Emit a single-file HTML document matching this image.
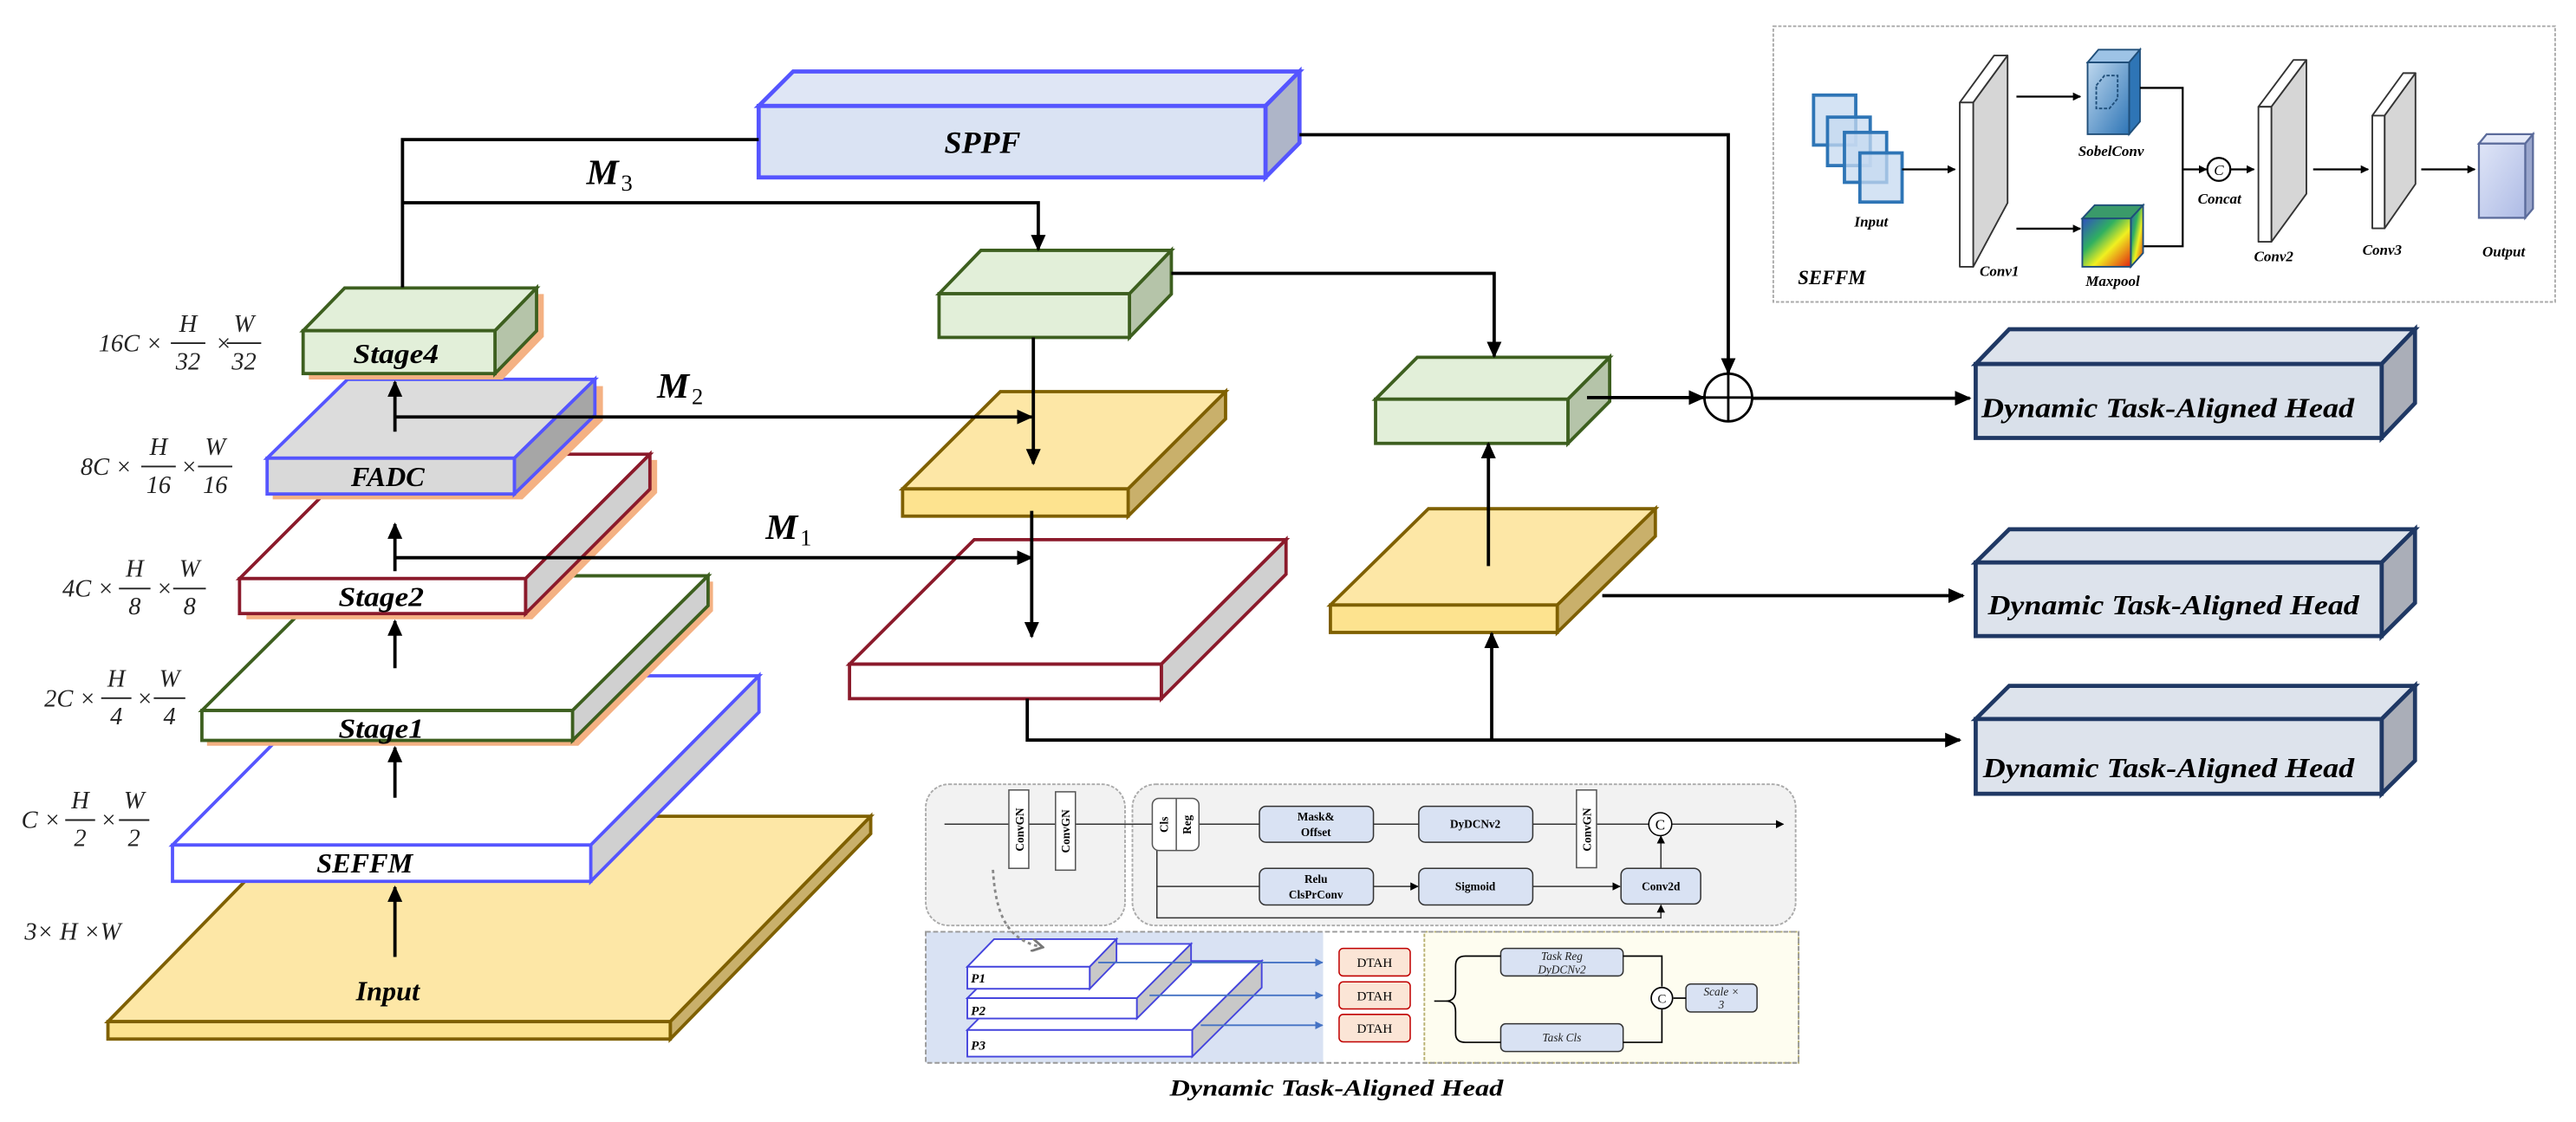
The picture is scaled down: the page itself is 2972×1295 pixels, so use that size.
<!DOCTYPE html>
<html><head><meta charset="utf-8"><style>html,body{margin:0;padding:0;background:#fff}svg{display:block}</style></head><body>
<svg width="2972" height="1295" viewBox="0 0 1568 683" preserveAspectRatio="none" xmlns="http://www.w3.org/2000/svg" font-family="'Liberation Serif', serif">
<defs>
<marker id="a" markerUnits="userSpaceOnUse" markerWidth="10" markerHeight="10" refX="9" refY="5" orient="auto"><path d="M0,0.5 L10,5 L0,9.5 z" fill="#000"/></marker>
<marker id="s" markerUnits="userSpaceOnUse" markerWidth="5" markerHeight="5" refX="4.5" refY="2.5" orient="auto"><path d="M0,0 L5,2.5 L0,5 z" fill="#000"/></marker>
<marker id="b" markerUnits="userSpaceOnUse" markerWidth="5" markerHeight="5" refX="4.5" refY="2.5" orient="auto"><path d="M0,0 L5,2.5 L0,5 z" fill="#4472c4"/></marker>
<marker id="g" markerUnits="userSpaceOnUse" markerWidth="8" markerHeight="8" refX="6" refY="4" orient="auto"><path d="M0,0 L7,4 L0,8" fill="none" stroke="#777" stroke-width="1.5"/></marker>
<linearGradient id="sob" x1="0" y1="0" x2="1" y2="1"><stop offset="0" stop-color="#bdd7ee"/><stop offset="1" stop-color="#2e75b6"/></linearGradient>
<linearGradient id="rb" x1="0" y1="0" x2="1" y2="1"><stop offset="0" stop-color="#3050c0"/><stop offset="0.35" stop-color="#30b060"/><stop offset="0.6" stop-color="#f0f020"/><stop offset="1" stop-color="#e02010"/></linearGradient>
<linearGradient id="out" x1="0" y1="0" x2="1" y2="1"><stop offset="0" stop-color="#dfe5f7"/><stop offset="1" stop-color="#aebbe5"/></linearGradient>
</defs>

<!-- left pyramid -->
<g stroke-width="2" stroke-linejoin="miter">
<g stroke="#7f6000"><polygon points="65.7,621.9 187.7,496.9 530,496.9 408,621.9" fill="#fde7a6"/><polygon points="408,621.9 530,496.9 530,507.5 408,632.5" fill="#c9b06b"/><rect x="65.7" y="621.9" width="342.3" height="10.6" fill="#fde38f"/></g>
<g stroke="#5555ff"><polygon points="105,514.4 207.4,411.4 462,411.4 359.6,514.4" fill="#fff"/><polygon points="359.6,514.4 462,411.4 462,433.5 359.6,536.5" fill="#d0d0d0"/><rect x="105" y="514.4" width="254.6" height="22.1" fill="#fff"/></g>
<polygon points="126,436 208,354 434,354 434,372 352,454 126,454" fill="#f4b183" stroke="none"/>
<g stroke="#3d5f1f"><polygon points="122.9,432.5 205.4,350.5 431,350.5 348.5,432.5" fill="#fff"/><polygon points="348.5,432.5 431,350.5 431,368.7 348.5,450.7" fill="#d0d0d0"/><rect x="122.9" y="432.5" width="225.6" height="18.2" fill="#fff"/></g>
<polygon points="150,356 226,280 400,280 400,300 324,377 150,377" fill="#f4b183" stroke="none"/>
<g stroke="#8b1a2b"><polygon points="145.8,352.2 221.5,276.5 395.6,276.5 319.9,352.2" fill="#fff"/><polygon points="319.9,352.2 395.6,276.5 395.6,297.8 319.9,373.5" fill="#d0d0d0"/><rect x="145.8" y="352.2" width="174.1" height="21.3" fill="#fff"/></g>
<polygon points="166,283 215,235 367,235 367,256 318,304 166,304" fill="#f4b183" stroke="none"/>
<g stroke="#5555ff"><polygon points="162.6,278.9 211.6,230.9 362.1,230.9 313.1,278.9" fill="#dcdcdc"/><polygon points="313.1,278.9 362.1,230.9 362.1,252.7 313.1,300.7" fill="#a6a6a6"/><rect x="162.6" y="278.9" width="150.5" height="21.8" fill="#d9d9d9"/></g>
<polygon points="188,205 213,179 331,179 331,205 306,231 188,231" fill="#f4b183" stroke="none"/>
<g stroke="#3d5f1f"><polygon points="184.5,201.3 209.8,175.3 326.6,175.3 301.3,201.3" fill="#e2efd9"/><polygon points="301.3,201.3 326.6,175.3 326.6,201.4 301.3,227.4" fill="#b5c4a9"/><rect x="184.5" y="201.3" width="116.8" height="26.1" fill="#e2efd9"/></g>
</g>
<g font-weight="bold" font-style="italic" font-size="17" text-anchor="middle">
<text x="241" y="221" textLength="52" lengthAdjust="spacingAndGlyphs">Stage4</text>
<text x="236" y="296">FADC</text>
<text x="232" y="369" textLength="52" lengthAdjust="spacingAndGlyphs">Stage2</text>
<text x="232" y="449" textLength="52" lengthAdjust="spacingAndGlyphs">Stage1</text>
<text x="222" y="531">SEFFM</text>
<text x="236" y="609">Input</text>
</g>
<g stroke="#000" stroke-width="2" fill="none" marker-end="url(#a)">
<line x1="240.4" y1="582.5" x2="240.4" y2="540"/>
<line x1="240.4" y1="485.6" x2="240.4" y2="455"/>
<line x1="240.4" y1="406.8" x2="240.4" y2="378"/>
<line x1="240.4" y1="347.7" x2="240.4" y2="319"/>
<line x1="240.4" y1="262.8" x2="240.4" y2="232.5"/>
</g>
<!-- dims -->
<g font-style="italic" font-size="15" fill="#222">
<text x="60" y="214">16C ×</text><text x="114.5" y="202" text-anchor="middle">H</text><text x="114.5" y="225" text-anchor="middle">32</text><text x="131" y="214">×</text><text x="148.5" y="202" text-anchor="middle">W</text><text x="148.5" y="225" text-anchor="middle">32</text>
<text x="49" y="289">8C ×</text><text x="96.5" y="277" text-anchor="middle">H</text><text x="96.5" y="300" text-anchor="middle">16</text><text x="110" y="289">×</text><text x="131" y="277" text-anchor="middle">W</text><text x="131" y="300" text-anchor="middle">16</text>
<text x="38" y="363">4C ×</text><text x="82" y="351" text-anchor="middle">H</text><text x="82" y="374" text-anchor="middle">8</text><text x="95" y="363">×</text><text x="115.4" y="351" text-anchor="middle">W</text><text x="115.4" y="374" text-anchor="middle">8</text>
<text x="27" y="430">2C ×</text><text x="70.8" y="418" text-anchor="middle">H</text><text x="70.8" y="441" text-anchor="middle">4</text><text x="83" y="430">×</text><text x="103.2" y="418" text-anchor="middle">W</text><text x="103.2" y="441" text-anchor="middle">4</text>
<text x="13" y="504">C ×</text><text x="48.8" y="492" text-anchor="middle">H</text><text x="48.8" y="515" text-anchor="middle">2</text><text x="61" y="504">×</text><text x="81.6" y="492" text-anchor="middle">W</text><text x="81.6" y="515" text-anchor="middle">2</text>
<text x="15" y="572">3× H ×W</text>
</g>
<g stroke="#222" stroke-width="1">
<line x1="104" y1="208.9" x2="125" y2="208.9"/><line x1="138" y1="208.9" x2="159" y2="208.9"/>
<line x1="86" y1="284" x2="107" y2="284"/><line x1="120.5" y1="284" x2="141.4" y2="284"/>
<line x1="72.4" y1="358.3" x2="91.6" y2="358.3"/><line x1="105.4" y1="358.3" x2="125.3" y2="358.3"/>
<line x1="61.6" y1="425" x2="80" y2="425"/><line x1="93.6" y1="425" x2="112.8" y2="425"/>
<line x1="39.7" y1="499.2" x2="57.9" y2="499.2"/><line x1="72.4" y1="499.2" x2="90.9" y2="499.2"/>
</g>

<!-- SPPF -->
<g stroke="#5555ff" stroke-width="2.5"><polygon points="461.8,64.5 482.8,43.5 791,43.5 770.3,64.5" fill="#dfe6f5"/><polygon points="770.3,64.5 791,43.5 791,87 770.3,108" fill="#aeb5c8"/><rect x="461.8" y="64.5" width="308.5" height="43.5" fill="#dae3f3"/></g>
<text x="598" y="93" font-size="19" font-weight="bold" font-style="italic" text-anchor="middle">SPPF</text>

<!-- middle blocks -->
<g stroke-width="2">
<g stroke="#3d5f1f"><polygon points="571.6,178.8 597.1,152.4 713,152.4 687.5,178.8" fill="#e2efd9"/><polygon points="687.5,178.8 713,152.4 713,179 687.5,205.4" fill="#b5c4a9"/><rect x="571.6" y="178.8" width="115.9" height="26.6" fill="#e2efd9"/></g>
<g stroke="#7f6000"><polygon points="549.4,297.6 608.9,238.4 746,238.4 686.7,297.6" fill="#fde7a6"/><polygon points="686.7,297.6 746,238.4 746,255 686.7,314.2" fill="#c9b06b"/><rect x="549.4" y="297.6" width="137.3" height="16.6" fill="#fde38f"/></g>
<g stroke="#8b1a2b"><polygon points="517.1,404.3 593,328.5 782.8,328.5 706.9,404.3" fill="#fff"/><polygon points="706.9,404.3 782.8,328.5 782.8,349.5 706.9,425.3" fill="#d0d0d0"/><rect x="517.1" y="404.3" width="189.8" height="21" fill="#fff"/></g>
<g stroke="#7f6000"><polygon points="809.8,368.3 869.5,309.7 1007.6,309.7 947.9,368.3" fill="#fde7a6"/><polygon points="947.9,368.3 1007.6,309.7 1007.6,326.4 947.9,385" fill="#c9b06b"/><rect x="809.8" y="368.3" width="138.1" height="16.7" fill="#fde38f"/></g>
<g stroke="#3d5f1f"><polygon points="837.3,243 862.7,217.5 979.8,217.5 954.4,243" fill="#e2efd9"/><polygon points="954.4,243 979.8,217.5 979.8,244.4 954.4,269.9" fill="#b5c4a9"/><rect x="837.3" y="243" width="117.1" height="26.9" fill="#e2efd9"/></g>
</g>

<!-- connectors -->
<g stroke="#000" stroke-width="2" fill="none">
<polyline points="461.8,85 245,85 245,175"/>
<polyline points="245,123.4 632,123.4 632,152" marker-end="url(#a)"/>
<line x1="240.4" y1="253.8" x2="628" y2="253.8" marker-end="url(#a)"/>
<line x1="240.4" y1="339.5" x2="628" y2="339.5" marker-end="url(#a)"/>
<line x1="629" y1="205.4" x2="629" y2="282.3" marker-end="url(#a)"/>
<line x1="628" y1="311" x2="628" y2="387.6" marker-end="url(#a)"/>
<polyline points="713,166.4 909.5,166.4 909.5,217" marker-end="url(#a)"/>
<polyline points="625.3,425.3 625.3,450.5 1193,450.5" marker-end="url(#a)"/>
<line x1="908" y1="450.5" x2="908" y2="385.5" marker-end="url(#a)"/>
<line x1="906" y1="344.6" x2="906" y2="270" marker-end="url(#a)"/>
<line x1="975.3" y1="362.6" x2="1195" y2="362.6" marker-end="url(#a)"/>
<line x1="966" y1="242" x2="1037" y2="242" marker-end="url(#a)"/>
<polyline points="791,82 1052,82 1052,227" marker-end="url(#a)"/>
<line x1="1067" y1="242.4" x2="1199" y2="242.4" marker-end="url(#a)"/>
<circle cx="1052" cy="242" r="14.5" stroke-width="1.5"/>
<line x1="1052" y1="227.5" x2="1052" y2="256.5" stroke-width="1.5"/>
<line x1="1037.5" y1="242" x2="1066.5" y2="242" stroke-width="1.5"/>
</g>
<g font-style="italic" font-weight="bold" font-size="22"><text x="357" y="112">M</text><text x="400" y="242">M</text><text x="466" y="328">M</text></g>
<g font-size="14"><text x="378" y="116">3</text><text x="421" y="246">2</text><text x="487" y="332">1</text></g>

<!-- heads -->
<g stroke="#1f3864" stroke-width="2.5">
<polygon points="1202.6,221.6 1223,200.4 1470,200.4 1449.7,221.6" fill="#dde3ec"/><polygon points="1449.7,221.6 1470,200.4 1470,245.4 1449.7,266.6" fill="#aaaeb8"/><rect x="1202.6" y="221.6" width="247.1" height="45" fill="#d9e0ea"/>
<polygon points="1202.6,342.4 1223,322.2 1470,322.2 1449.7,342.4" fill="#dde3ec"/><polygon points="1449.7,342.4 1470,322.2 1470,367 1449.7,387.2" fill="#aaaeb8"/><rect x="1202.6" y="342.4" width="247.1" height="44.8" fill="#dde3ec"/>
<polygon points="1202.6,437.7 1223,417.5 1470,417.5 1449.7,437.7" fill="#dde3ec"/><polygon points="1449.7,437.7 1470,417.5 1470,463 1449.7,483.2" fill="#aaaeb8"/><rect x="1202.6" y="437.7" width="247.1" height="45.5" fill="#dde3ec"/>
</g>
<g font-weight="bold" font-style="italic" font-size="17">
<text x="1206" y="254" textLength="227" lengthAdjust="spacingAndGlyphs">Dynamic Task-Aligned Head</text>
<text x="1210" y="374" textLength="226" lengthAdjust="spacingAndGlyphs">Dynamic Task-Aligned Head</text>
<text x="1207" y="473" textLength="226" lengthAdjust="spacingAndGlyphs">Dynamic Task-Aligned Head</text>
</g>

<!-- SEFFM inset -->
<rect x="1079.4" y="16" width="475.9" height="167.8" fill="#fff" stroke="#aaa" stroke-width="1" stroke-dasharray="2,1"/>
<g stroke="#2e75b6" stroke-width="2" fill="#c5d9f0" fill-opacity="0.75">
<rect x="1103.9" y="57.9" width="25.7" height="30.4"/><rect x="1112.4" y="71.3" width="26" height="29.5"/><rect x="1122.7" y="80.6" width="25.7" height="30.4"/><rect x="1132.1" y="93.1" width="25.7" height="29.9"/>
</g>
<g stroke="#333" stroke-width="1" stroke-linejoin="round">
<polygon points="1192.9,62.4 1213.8,33.8 1222,33.8 1201.1,62.4" fill="#fff"/><polygon points="1201.1,62.4 1222,33.8 1222,123.5 1201.1,162.4" fill="#d6d6d6"/><rect x="1192.9" y="62.4" width="8.2" height="100" fill="#fff"/>
<polygon points="1374.7,65 1396,36.5 1403.9,36.5 1382.6,65" fill="#fff"/><polygon points="1382.6,65 1403.9,36.5 1403.9,118 1382.6,147.2" fill="#d6d6d6"/><rect x="1374.7" y="65" width="7.9" height="82.2" fill="#fff"/>
<polygon points="1444,70.4 1462.8,44.5 1470.3,44.5 1451.5,70.4" fill="#fff"/><polygon points="1451.5,70.4 1470.3,44.5 1470.3,112 1451.5,139" fill="#d6d6d6"/><rect x="1444" y="70.4" width="7.5" height="68.6" fill="#fff"/>
</g>
<g stroke="#1f4e79" stroke-width="1">
<polygon points="1270.7,38 1277.3,30.2 1302.6,30.2 1296,38" fill="#9dc3e6"/><polygon points="1296,38 1302.6,30.2 1302.6,74 1296,81.7" fill="#2e75b6"/><rect x="1270.7" y="38" width="25.3" height="43.7" fill="url(#sob)"/>
<polygon points="1267.5,133 1275,124.9 1304.5,124.9 1297,133" fill="#3a9a6a"/><polygon points="1297,133 1304.5,124.9 1304.5,154 1297,162.4" fill="url(#rb)"/><rect x="1267.5" y="133" width="29.5" height="29.4" fill="url(#rb)"/>
</g>
<path d="M1276,52 l5,-6 h8 v14 l-5,6 h-8 z" fill="none" stroke="#1f4e79" stroke-width="1" stroke-dasharray="2,1"/>
<g stroke="#5b6b9b" stroke-width="1.2"><polygon points="1508.9,87.4 1513.6,81.7 1541.8,81.7 1537.1,87.4" fill="#e4e9f8"/><polygon points="1537.1,87.4 1541.8,81.7 1541.8,127 1537.1,132.6" fill="#9aa6cc"/><rect x="1508.9" y="87.4" width="28.2" height="45.2" fill="url(#out)"/></g>
<g stroke="#000" stroke-width="1.2" fill="none">
<line x1="1157.8" y1="103.1" x2="1190" y2="103.1" marker-end="url(#s)"/>
<line x1="1227.4" y1="58.8" x2="1266.3" y2="58.8" marker-end="url(#s)"/>
<line x1="1227.4" y1="139.2" x2="1266.3" y2="139.2" marker-end="url(#s)"/>
<polyline points="1302.6,53.5 1328.6,53.5 1328.6,149.9 1305,149.9"/>
<line x1="1328.6" y1="103.1" x2="1343" y2="103.1" marker-end="url(#s)"/>
<circle cx="1350.6" cy="103.1" r="7"/>
<line x1="1357.8" y1="103.1" x2="1372" y2="103.1" marker-end="url(#s)"/>
<line x1="1408" y1="103.1" x2="1441.5" y2="103.1" marker-end="url(#s)"/>
<line x1="1473.8" y1="103.1" x2="1506.4" y2="103.1" marker-end="url(#s)"/>
</g>
<g font-style="italic" font-weight="bold" font-size="9" text-anchor="middle">
<text x="1350.6" y="106.5" font-weight="normal">C</text>
<text x="1139" y="138">Input</text><text x="1217" y="168">Conv1</text><text x="1285" y="95">SobelConv</text><text x="1286" y="174">Maxpool</text><text x="1351" y="124">Concat</text><text x="1384" y="159">Conv2</text><text x="1450" y="155">Conv3</text><text x="1524" y="156">Output</text>
<text x="1115" y="173" font-size="12">SEFFM</text>
</g>

<!-- DTAH inset -->
<rect x="563.5" y="477.4" width="121.3" height="86" rx="14" fill="#f2f2f2" stroke="#aaa" stroke-width="1" stroke-dasharray="2,1"/>
<rect x="689.3" y="477.4" width="403.7" height="86" rx="14" fill="#f2f2f2" stroke="#aaa" stroke-width="1" stroke-dasharray="2,1"/>
<rect x="563.5" y="567.2" width="241.9" height="79.8" fill="#d9e2f3"/>
<rect x="867" y="567.2" width="227.8" height="79.8" fill="#fefdf0" stroke="#b8b070" stroke-width="1" stroke-dasharray="2,1"/>
<rect x="563.5" y="567.2" width="531.3" height="79.8" fill="none" stroke="#999" stroke-width="1" stroke-dasharray="3,1.5"/>
<g stroke="#333" stroke-width="0.8" fill="none">
<line x1="574.9" y1="501.7" x2="1085.5" y2="501.7" marker-end="url(#s)"/>
<polyline points="704.2,517.7 704.2,558.7 1011,558.7 1011,551" marker-end="url(#s)"/>
<line x1="704.2" y1="539.6" x2="766.6" y2="539.6"/>
<line x1="836" y1="539.6" x2="863" y2="539.6" marker-end="url(#s)"/>
<line x1="933" y1="539.6" x2="986" y2="539.6" marker-end="url(#s)"/>
<line x1="1011" y1="528.6" x2="1011" y2="509" marker-end="url(#s)"/>
</g>
<g fill="#fff" stroke="#555" stroke-width="0.8">
<rect x="614.1" y="480.9" width="12.1" height="47.7"/><rect x="642.5" y="482" width="12.1" height="47.7"/><rect x="959.6" y="480.9" width="12.2" height="47.3"/>
<rect x="701.4" y="486" width="28.4" height="31.7" rx="4"/><line x1="716" y1="486" x2="716" y2="517.7"/>
</g>
<g fill="#d9e2f3" stroke="#333" stroke-width="0.8">
<rect x="766.6" y="490.8" width="69.4" height="21.9" rx="4"/><rect x="863.6" y="490.8" width="69.4" height="21.9" rx="4"/>
<rect x="766.6" y="528.6" width="69.4" height="22.3" rx="4"/><rect x="863.6" y="528.6" width="69.4" height="22.3" rx="4"/>
<rect x="986.7" y="528.6" width="48.5" height="21.7" rx="4"/>
</g>
<circle cx="1010.6" cy="501.7" r="7" fill="#fff" stroke="#000" stroke-width="0.8"/>
<g font-size="7" font-weight="bold" text-anchor="middle">
<text transform="translate(623,505) rotate(-90)">ConvGN</text><text transform="translate(651,506) rotate(-90)">ConvGN</text><text transform="translate(968.5,505) rotate(-90)">ConvGN</text>
<text transform="translate(711,502) rotate(-90)">Cls</text><text transform="translate(725,502) rotate(-90)">Reg</text>
<text x="801" y="499.5">Mask&amp;</text><text x="801" y="509">Offset</text><text x="898" y="504">DyDCNv2</text>
<text x="801" y="537.5">Relu</text><text x="801" y="547">ClsPrConv</text><text x="898" y="542">Sigmoid</text><text x="1011" y="542">Conv2d</text>
<text x="1010.6" y="505" font-size="9" font-weight="normal">C</text>
</g>
<!-- P boxes -->
<g stroke="#4444dd" stroke-width="1">
<polygon points="588.8,627 630.8,585 768,585 725.7,627" fill="#fff"/><polygon points="725.7,627 768,585 768,601.2 725.7,643.2" fill="#c8c8c8"/><rect x="588.8" y="627" width="136.9" height="16.2" fill="#fff"/>
<polygon points="588.8,607.6 621.8,574.6 725,574.6 692,607.6" fill="#fff"/><polygon points="692,607.6 725,574.6 725,587 692,620" fill="#c8c8c8"/><rect x="588.8" y="607.6" width="103.2" height="12.4" fill="#fff"/>
<polygon points="588.8,588.5 605.1,571.7 679.6,571.7 663.3,588.5" fill="#fff"/><polygon points="663.3,588.5 679.6,571.7 679.6,585.1 663.3,601.9" fill="#c8c8c8"/><rect x="588.8" y="588.5" width="74.5" height="13.4" fill="#fff"/>
</g>
<g stroke="#4472c4" stroke-width="1"><line x1="668.5" y1="585.9" x2="805" y2="585.9" marker-end="url(#b)"/><line x1="699.7" y1="605.9" x2="805" y2="605.9" marker-end="url(#b)"/><line x1="730.9" y1="624.1" x2="805" y2="624.1" marker-end="url(#b)"/></g>
<path d="M604.4,529.5 C606,555 612,572 633.8,576.4" fill="none" stroke="#888" stroke-width="1.5" stroke-dasharray="2,2" marker-end="url(#g)"/>
<g font-style="italic" font-weight="bold" font-size="8"><text x="591" y="598">P1</text><text x="591" y="618">P2</text><text x="591" y="639">P3</text></g>
<g fill="#fbe5d6" stroke="#c00000" stroke-width="0.8"><rect x="815.1" y="577.3" width="43.3" height="16.8" rx="2.5"/><rect x="815.1" y="597.7" width="43.3" height="16.5" rx="2.5"/><rect x="815.1" y="617.5" width="43.3" height="16.7" rx="2.5"/></g>
<g font-size="8" text-anchor="middle"><text x="836.7" y="588.5">DTAH</text><text x="836.7" y="608.8">DTAH</text><text x="836.7" y="628.7">DTAH</text></g>
<g fill="#d9e2f3" stroke="#333" stroke-width="0.8"><rect x="913.5" y="577.3" width="74.5" height="16.8" rx="3"/><rect x="913.5" y="623.2" width="74.5" height="16.9" rx="3"/><rect x="1026.2" y="599" width="43.3" height="17" rx="3"/></g>
<g stroke="#000" stroke-width="0.9" fill="none">
<path d="M873,609.4 H880 Q886,609.4 886,603 V588 Q886,582 892,582 H913.5 M880,609.4 Q886,609.4 886,616 V629 Q886,634.5 892,634.5 H913.5"/>
<polyline points="988,582 1011.6,582 1011.6,600.5"/><polyline points="988,634.5 1011.6,634.5 1011.6,614.5"/>
<line x1="1018.6" y1="607.6" x2="1026.2" y2="607.6"/>
<circle cx="1011.6" cy="607.6" r="6.5" fill="#fff"/>
</g>
<g font-style="italic" font-size="7" text-anchor="middle" fill="#222"><text x="950.7" y="584.5">Task Reg</text><text x="950.7" y="592.5">DyDCNv2</text><text x="950.7" y="634">Task Cls</text><text x="1047.8" y="606">Scale ×</text><text x="1047.8" y="614">3</text><text x="1011.6" y="610.5" font-style="normal" font-size="8">C</text></g>
<text x="712" y="667" font-size="14" font-weight="bold" font-style="italic" textLength="203" lengthAdjust="spacingAndGlyphs">Dynamic Task-Aligned Head</text>
</svg>
</body></html>
